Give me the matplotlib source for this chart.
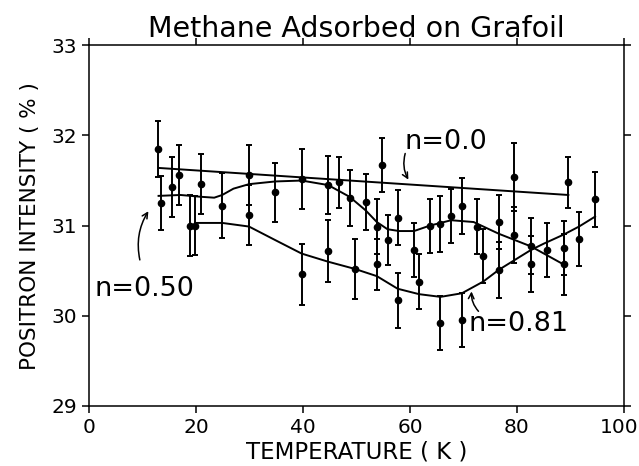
import matplotlib
matplotlib.use('Agg')
import matplotlib.pyplot as plt
import matplotlib.transforms as mtransforms

plt.rcParams['font.family'] = ['DejaVu Sans']

# data points (temperature K, intensity %, error)
temp = [12.96, 13.46, 15.45, 16.9, 18.9, 19.8, 20.9, 24.9, 29.9, 29.9,
        34.8, 39.75, 39.75, 44.7, 44.7, 46.8, 48.7, 49.7,
        51.7, 53.8, 53.8, 54.7, 55.8, 57.7, 57.7, 60.75, 61.7, 63.7,
        65.7, 65.7, 67.7, 69.7, 69.7, 72.6, 73.7, 76.6, 76.6, 79.5,
        79.5, 82.6, 82.6, 85.7, 88.7, 88.7, 89.6, 91.6, 94.6]
intensity = [31.85, 31.25, 31.43, 31.56, 31.0, 31.0, 31.46, 31.22, 31.56, 31.12,
             31.37, 31.52, 30.46, 31.45, 30.72, 31.48, 31.31, 30.52,
             31.26, 30.99, 30.57, 31.67, 30.84, 31.09, 30.17, 30.73, 30.38, 31.0,
             31.02, 29.92, 31.11, 31.22, 29.95, 30.99, 30.66, 31.04, 30.51, 31.54,
             30.90, 30.77, 30.57, 30.73, 30.75, 30.57, 31.48, 30.85, 31.29]
err = [0.31, 0.30, 0.33, 0.33, 0.34, 0.33, 0.33, 0.36, 0.33, 0.33,
       0.33, 0.33, 0.34, 0.32, 0.34, 0.28, 0.31, 0.33,
       0.31, 0.31, 0.28, 0.30, 0.28, 0.31, 0.31, 0.30, 0.31, 0.30,
       0.31, 0.30, 0.30, 0.31, 0.30, 0.31, 0.30, 0.30, 0.31, 0.38,
       0.31, 0.31, 0.31, 0.30, 0.30, 0.34, 0.28, 0.30, 0.31]

# fitted curves
fit00_x = [13.0, 89.6]
fit00_y = [31.64, 31.34]

fit50_x = [13.0, 17.1, 20.9, 23.4, 24.9, 27.0, 29.9, 34.8, 39.75, 44.7, 48.7,
           51.7, 53.8, 55.8, 58.0, 60.75, 63.7, 67.7, 71.9, 76.6, 82.6, 88.7]
fit50_y = [31.33, 31.34, 31.32, 31.31, 31.34, 31.41, 31.46, 31.49, 31.50, 31.45, 31.32,
           31.17, 31.04, 30.96, 30.94, 30.94, 31.0, 31.06, 31.04, 30.91, 30.77, 30.57]

fit81_x = [19.8, 24.9, 29.9, 34.8, 39.75, 44.7, 49.7, 53.8, 57.7, 61.7, 65.7,
           69.7, 73.7, 76.6, 82.6, 85.0, 88.7, 91.6, 94.6]
fit81_y = [31.03, 31.03, 30.99, 30.84, 30.69, 30.60, 30.52, 30.44, 30.30, 30.24, 30.21,
           30.25, 30.38, 30.51, 30.73, 30.80, 30.90, 30.99, 31.10]

xticks = [0, 20, 40, 60, 80, 100]
yticks = [29, 30, 31, 32, 33]

fig = plt.figure(figsize=(6.39, 4.66), dpi=100)
ax = fig.add_axes([0.1393, 0.1288, 0.8372, 0.774])

ax.plot(fit00_x, fit00_y, color='black', lw=1.4)
ax.plot(fit50_x, fit50_y, color='black', lw=1.4)
ax.plot(fit81_x, fit81_y, color='black', lw=1.4)
ax.errorbar(temp, intensity, yerr=err, fmt='o', color='black', ms=4.5,
            elinewidth=1.4, capsize=2.5, capthick=1.4)

ax.set_xlim(0, 100)
ax.set_ylim(29, 33)
ax.set_xticks(xticks)
ax.set_yticks(yticks)
ax.tick_params(direction='out', length=5, width=1.1, labelsize=14.5,
               top=True, right=True)
for s in ax.spines.values():
    s.set_linewidth(1.1)

# nudge "100" a bit so it stays inside the image
lab = ax.get_xticklabels()[-1]
lab.set_transform(lab.get_transform() +
                  mtransforms.ScaledTranslation(-5 / 100, 0, fig.dpi_scale_trans))

ax.set_title('Methane Adsorbed on Grafoil', fontsize=20.5, pad=6)
ax.set_xlabel('TEMPERATURE ( K )', fontsize=16.5, labelpad=3)
ax.set_ylabel('POSITRON INTENSITY ( % )', fontsize=15.5, labelpad=8)

arrow = dict(arrowstyle='->', lw=1.1, color='black', shrinkA=0, shrinkB=0)
ax.annotate('', xy=(59.7, 31.51), xytext=(59.1, 31.80),
            arrowprops=dict(arrow, connectionstyle='arc3,rad=0.2'))
ax.text(58.9, 31.93, 'n=0.0', fontsize=19.5, va='center', ha='left')
ax.annotate('', xy=(11.1, 31.16), xytext=(9.5, 30.62),
            arrowprops=dict(arrow, connectionstyle='arc3,rad=-0.2'))
ax.text(1.1, 30.30, 'n=0.50', fontsize=19.5, va='center', ha='left')
ax.annotate('', xy=(71.5, 30.27), xytext=(72.8, 30.05),
            arrowprops=dict(arrow, connectionstyle='arc3,rad=-0.2'))
ax.text(71.0, 29.91, 'n=0.81', fontsize=19.5, va='center', ha='left')

fig.savefig('out.png', dpi=100)
